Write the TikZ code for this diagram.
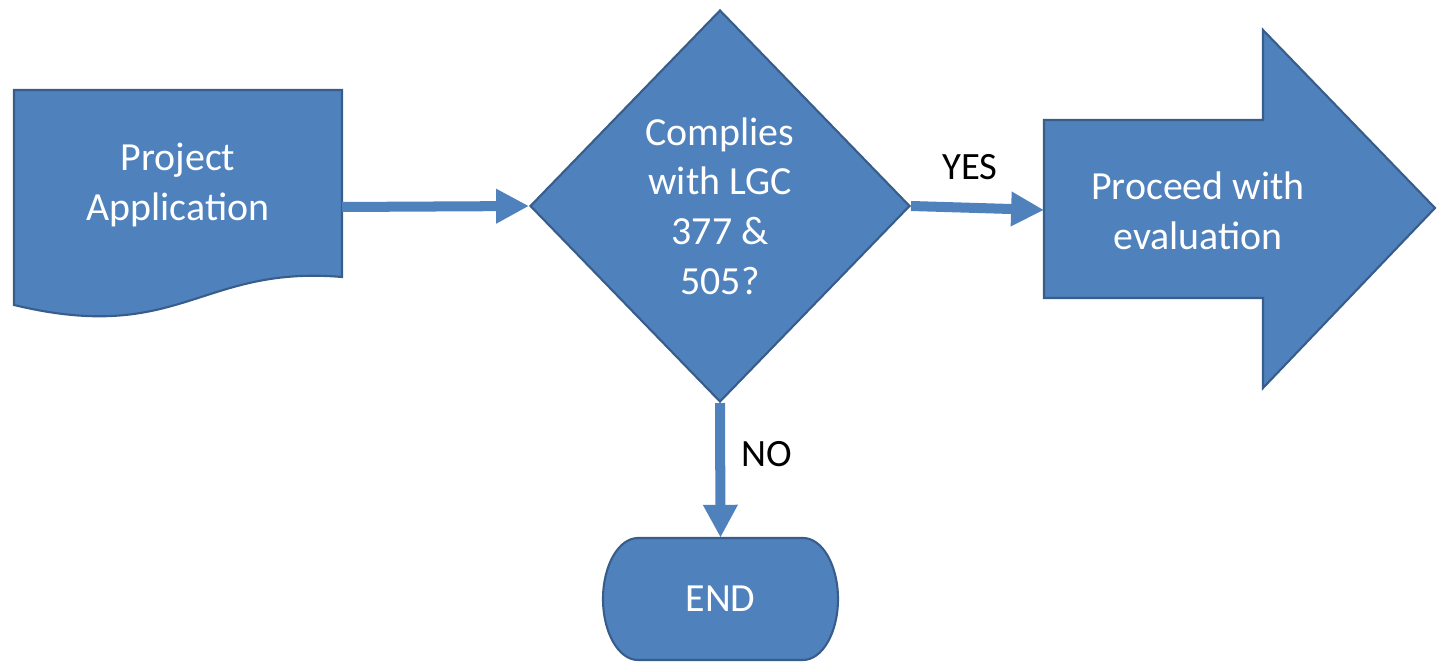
\documentclass[tikz,border=0pt]{standalone}
\usepackage{fontspec}
\setmainfont{Carlito}
\usetikzlibrary{shapes.geometric,arrows.meta}
\definecolor{boxfill}{HTML}{4F81BD}
\definecolor{boxline}{HTML}{385D8A}
\begin{document}
\begin{tikzpicture}[x=0.02cm,y=0.02cm,
  shapebox/.style={fill=boxfill,draw=boxline,line width=1.2pt,line join=miter},
  boxtext/.style={text=white,font=\fontsize{22.7}{28.3}\selectfont,align=center,inner sep=0pt},
  flow/.style={draw=boxfill,line width=5.7pt,-{Triangle[length=18.7pt,width=18.5pt]}},
  lbl/.style={font=\fontsize{22}{26}\selectfont,text=black,inner sep=0pt}]
\useasboundingbox (0,0) rectangle (1437,663);
% document shape
\draw[shapebox] (14,573) -- (342,573) -- (342,386)
  .. controls (200,398) and (180,318) .. (14,358) -- cycle;
\node[boxtext] (app) at (178,478) {Project\\Application};
\coordinate (appout) at (342,456);
% decision
\node[diamond,shapebox,boxtext,minimum width=7.6cm,minimum height=7.84cm] (dia) at (720,457)
  {Complies\\with LGC\\377 \&\\505?};
% big arrow
\draw[shapebox] (1044,543) -- (1263,543) -- (1263,633) -- (1435,455) -- (1263,275)
  -- (1263,365) -- (1044,365) -- cycle;
\node[boxtext] (proc) at (1198,452) {Proceed with\\evaluation};
\coordinate (procin) at (1044,453);
% terminator
\draw[shapebox] (638,125) -- (803,125)
  arc[start angle=90,end angle=-90,x radius=0.7cm,y radius=1.22cm]
  -- (638,3)
  arc[start angle=270,end angle=90,x radius=0.7cm,y radius=1.22cm] -- cycle;
\node[boxtext,minimum width=4.7cm,minimum height=2.44cm] (endn) at (720.5,64) {END};
% connectors
\draw[flow] (appout) -- (dia.west);
\draw[flow] (dia.east) -- (procin);
\draw[flow] (dia.south) -- (endn.north);
% labels
\node[lbl] (yes) at (970,496) {YES};
\node[lbl] (no) at (767,209) {NO};
\end{tikzpicture}
\end{document}
